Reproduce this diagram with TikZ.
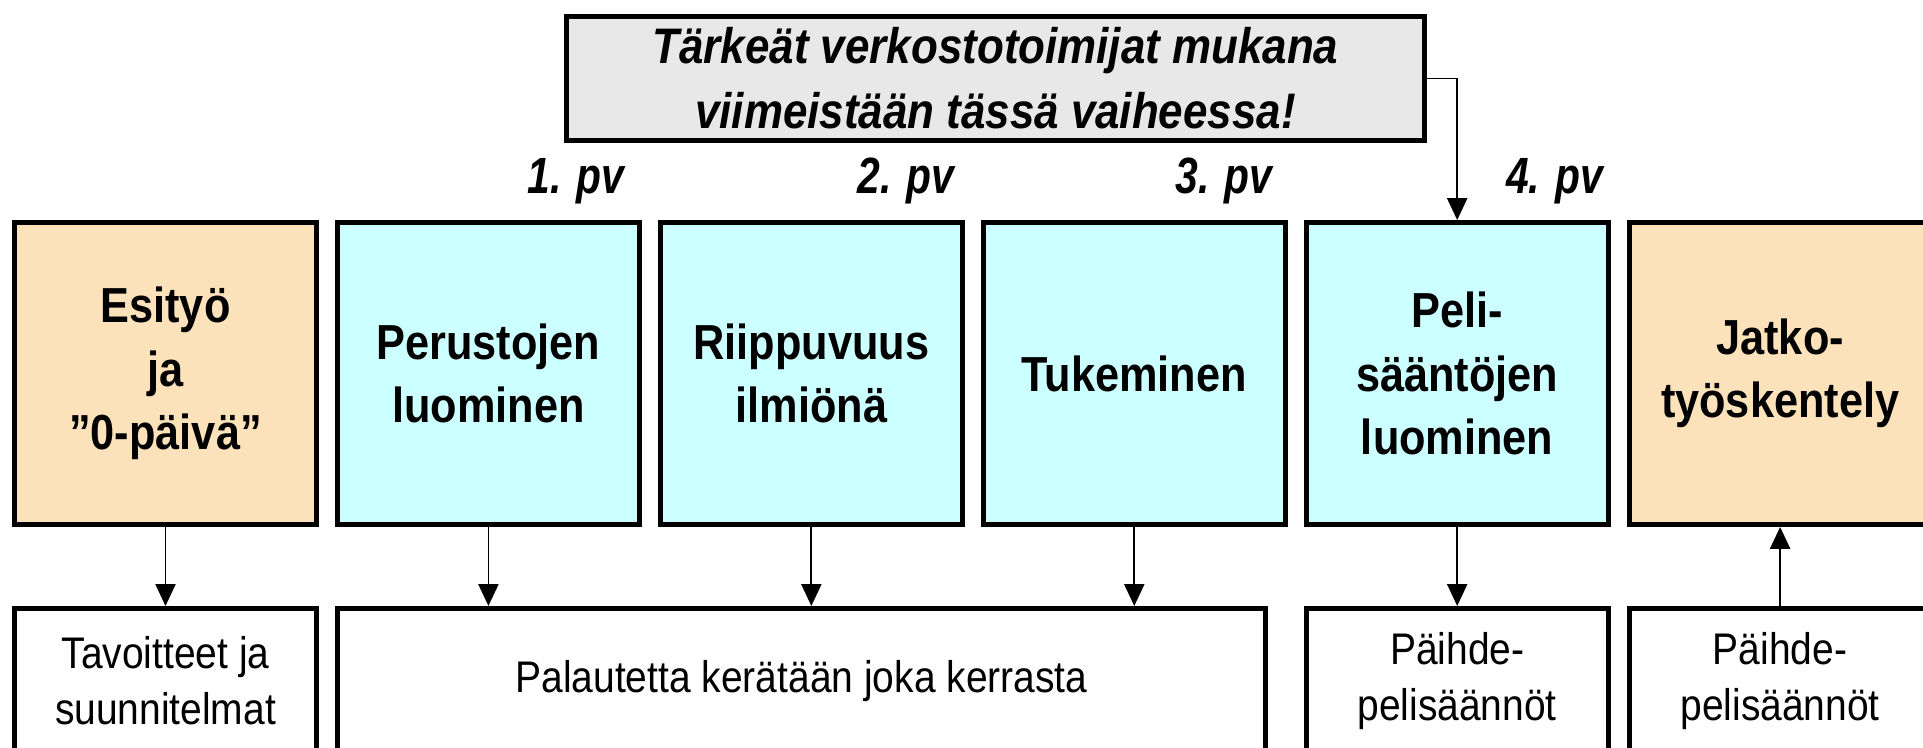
\documentclass[tikz,border=0pt]{standalone}
\usepackage{fontspec}
\setmainfont{Liberation Sans}[FakeStretch=0.88]
\newfontfamily\dayfont{Liberation Sans}[FakeStretch=0.8]
\usepackage{tikz}
\usetikzlibrary{arrows.meta, positioning, calc}
\definecolor{mycyan}{RGB}{204,255,255}
\definecolor{myorange}{RGB}{252,226,186}
\definecolor{mygray}{RGB}{232,232,232}
\tikzset{
  phase/.style={rectangle, draw=black, fill=mycyan,
    minimum width=3.02cm, minimum height=3.02cm, inner sep=0pt,
    align=center, line width=1.4pt,
    font=\fontsize{14pt}{18pt}\selectfont\bfseries},
  extphase/.style={phase, fill=myorange},
  outbox/.style={rectangle, draw=black, fill=white,
    minimum width=3.02cm, minimum height=1.45cm, inner sep=0pt,
    align=center, line width=1.4pt,
    font=\fontsize{12.6pt}{16pt}\selectfont},
  notebox/.style={rectangle, draw=black, fill=mygray,
    minimum width=8.58cm, minimum height=1.24cm, inner sep=0pt,
    align=center, line width=1.4pt,
    font=\fontsize{14.2pt}{18.5pt}\selectfont\bfseries\itshape},
  daylbl/.style={anchor=base east, inner sep=0pt,
    font=\dayfont\fontsize{14.5pt}{17pt}\selectfont\bfseries\itshape},
  arrow/.style={-{Triangle[width=5.7pt, length=6.2pt]}, line width=0.5pt, color=black}
}

\begin{document}
\begin{tikzpicture}
  \useasboundingbox (0,0) rectangle (19.23,-7.48);
  \clip (0,0) rectangle (19.23,-7.48);

  % ── Phase row ──────────────────────────────────────────────────────────────
  \node[extphase] (esityo) at (1.655,-3.735) {Esityö\\ja\\”0-päivä”};
  \node[phase, right=0.16cm of esityo] (perus) {Perustojen\\luominen};
  \node[phase, right=0.16cm of perus] (riip) {Riippuvuus\\ilmiönä};
  \node[phase, right=0.16cm of riip] (tuki) {Tukeminen};
  \node[phase, right=0.16cm of tuki] (peli) {Peli-\\sääntöjen\\luominen};
  \node[extphase, right=0.16cm of peli] (jatko) {Jatko-\\työskentely};

  % Day labels
  \node[daylbl] (pv1) at ([shift={(-0.17,0.27)}]perus.north east) {1. pv};
  \node[daylbl] (pv2) at ([shift={(-0.10,0.27)}]riip.north east) {2. pv};
  \node[daylbl] (pv3) at ([shift={(-0.15,0.27)}]tuki.north east) {3. pv};
  \node[daylbl] (pv4) at ([shift={(-0.07,0.27)}]peli.north east) {4. pv};

  % ── Note on top ────────────────────────────────────────────────────────────
  \node[notebox] (note) at (9.955,-0.785)
    {Tärkeät verkostotoimijat mukana\\viimeistään tässä vaiheessa!};
  \draw[arrow] (note.east) -| (peli.north);

  % ── Output row ─────────────────────────────────────────────────────────────
  \node[outbox, below=0.79cm of esityo] (tavoit) {Tavoitteet ja\\suunnitelmat};
  \node[outbox, minimum width=9.28cm, below=0.79cm of perus.south west,
    anchor=north west] (palaute) {Palautetta kerätään joka kerrasta};
  \node[outbox, below=0.79cm of peli] (paihdea) {Päihde-\\pelisäännöt};
  \node[outbox, below=0.79cm of jatko] (paihdeb) {Päihde-\\pelisäännöt};

  % Arrows
  \draw[arrow] (esityo.south) -- (tavoit.north);
  \draw[arrow] (perus.south) -- (perus.south |- palaute.north);
  \draw[arrow] (riip.south) -- (riip.south |- palaute.north);
  \draw[arrow] (tuki.south) -- (tuki.south |- palaute.north);
  \draw[arrow] (peli.south) -- (paihdea.north);
  \draw[arrow] (paihdeb.north) -- (jatko.south);
\end{tikzpicture}
\end{document}
